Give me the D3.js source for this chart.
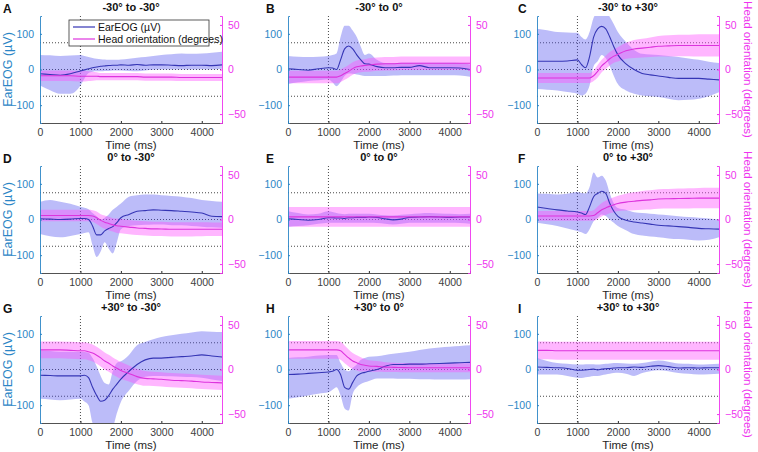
<!DOCTYPE html>
<html><head><meta charset="utf-8">
<script src="https://cdn.jsdelivr.net/npm/d3@7"></script>
<style>body{margin:0;background:#fff}svg{display:block;font-family:"Liberation Sans",Arial,sans-serif}</style>
</head><body><svg id="c" width="758" height="452"></svg>
<script>
// time grid (ms)
const times = [0,250,500,750,1000,1100,1200,1300,1400,1500,1600,1700,1800,1900,2000,2200,2400,2600,2800,3000,3250,3500,3750,4000,4250,4500];
const xTicks = [0,1000,2000,3000,4000];
const yLeftTicks = [-100,0,100];
const yRightTicks = [-50,0,50];
const letters = ["A","B","C","D","E","F","G","H","I"];
const titles = ["-30° to -30°","-30° to 0°","-30° to +30°","0° to -30°","0° to 0°","0° to +30°","+30° to -30°","+30° to 0°","+30° to +30°"];

// EarEOG mean / upper / lower (µV)
const eogMean = [
 [-12,-14,-16,-12,-4,-1,2,5,7,9,10,11,12,12,13,12,14,12,13,13,12,11,12,12,11,13],
 [2,0,-2,2,5,4,0,27,58,66,58,41,27,16,15,8,5,5,6,6,11,5,5,5,4,0],
 [23,23,23,24,27,14,5,36,91,114,121,114,91,64,41,16,0,-11,-15,-18,-22,-25,-25,-25,-27,-29],
 [2,1,0,1,3,3,0,-18,-43,-43,-32,-25,-20,-9,5,14,23,25,27,26,25,23,21,18,9,8],
 [2,0,-2,0,5,5,4,4,3,5,5,6,6,6,7,6,2,-1,1,6,7,8,7,6,7,7],
 [35,31,27,24,21,18,14,36,64,73,79,73,45,23,9,-2,-7,-10,-13,-16,-18,-20,-22,-25,-26,-27],
 [-16,-17,-18,-18,-18,-16,-23,-50,-73,-89,-86,-73,-55,-41,-27,-5,14,27,32,32,34,36,38,41,38,35],
 [-14,-13,-11,-9,-7,-5,0,-14,-50,-55,-36,-18,-11,-8,-5,0,9,14,14,15,15,16,17,18,19,20],
 [7,6,5,3,-2,-2,-1,0,1,-1,1,2,3,4,5,5,7,6,9,11,8,4,5,4,5,5]
];
const eogHi = [
 [41,40,38,39,41,38,35,32,30,29,28,27,27,27,28,30,33,35,38,41,43,45,44,45,47,50],
 [38,36,35,36,38,41,45,91,123,123,109,91,64,41,45,27,18,18,19,19,19,19,19,19,18,14],
 [114,110,105,104,103,91,84,105,145,160,165,165,147,127,105,77,55,44,42,41,38,35,31,27,22,18],
 [50,55,50,44,36,33,29,18,9,0,5,14,27,36,45,64,68,70,70,68,66,64,60,55,52,50],
 [23,18,14,16,23,21,18,16,15,16,16,16,16,16,16,14,12,11,13,15,17,18,17,16,15,16],
 [73,72,70,72,77,74,73,91,132,118,123,109,73,45,32,27,20,18,16,14,12,9,7,5,3,0],
 [53,52,50,50,50,49,47,32,9,-18,-38,-42,-5,18,23,41,68,77,85,91,96,100,104,107,106,105],
 [32,34,36,39,41,41,41,18,0,-5,5,14,27,32,36,37,41,44,47,50,55,59,62,64,66,68],
 [32,24,18,16,14,14,15,15,15,14,15,16,17,18,18,17,16,18,22,25,22,17,16,14,15,16]
];
const eogLo = [
 [-45,-58,-68,-68,-45,-25,-10,-6,-5,-5,-4,-4,-3,-3,-3,-4,-5,-3,-1,0,0,0,0,1,0,2],
 [-41,-36,-32,-30,-27,-36,-47,-35,-18,-11,-12,-14,-16,-18,-18,-18,-18,-17,-16,-16,-16,-16,-16,-16,-17,-20],
 [-55,-57,-59,-63,-68,-73,-68,-45,9,23,41,32,9,-18,-41,-59,-68,-73,-75,-77,-82,-86,-85,-82,-75,-64],
 [-41,-47,-50,-46,-41,-38,-36,-73,-105,-90,-64,-82,-95,-64,-27,-18,-16,-15,-14,-14,-16,-16,-18,-20,-22,-23],
 [-20,-18,-16,-12,-9,-9,-9,-9,-9,-9,-9,-9,-9,-9,-9,-10,-12,-14,-12,-9,-9,-9,-9,-9,-10,-12],
 [-9,-13,-18,-25,-32,-36,-41,-27,-5,5,14,10,0,-9,-18,-30,-41,-45,-48,-50,-53,-55,-57,-59,-57,-50],
 [-82,-84,-86,-84,-82,-90,-100,-150,-165,-170,-170,-165,-160,-123,-91,-59,-32,-20,-18,-18,-19,-20,-21,-23,-28,-32],
 [-82,-78,-73,-68,-64,-57,-50,-73,-109,-115,-68,-50,-41,-36,-32,-25,-25,-25,-26,-26,-27,-27,-28,-28,-28,-27],
 [-14,-14,-14,-18,-23,-24,-22,-20,-18,-18,-16,-14,-12,-10,-9,-12,-18,-10,-5,-2,-5,-10,-12,-14,-13,-12]
];
// Head orientation mean / SD (degrees)
const headMean = [
 [-7,-7,-7,-7,-7.5,-7.5,-7.5,-7.5,-7.5,-8,-8,-8,-8,-8,-8,-8,-8,-8.5,-8.5,-8.5,-8.5,-9,-9,-9,-9,-9],
 [-8.5,-8.5,-8.5,-8.5,-8.5,-8.5,-8.5,-7,-4.5,-2,1,3,4,4.5,5,6,6.5,6.5,7,7,7,7,7,7,7,7],
 [-9.5,-9.5,-9.5,-9.5,-9.5,-9.5,-9.5,-9.5,-7,-2,4,8,12,15,17,21,23,24,25,26,26.5,27,27,27,27,27],
 [4.5,4.5,4.5,4.5,4.5,4.5,4.5,4,2,-1,-3,-4.5,-6,-7,-7.5,-8.5,-9.5,-10,-10.5,-10.6,-11,-11,-11,-11,-11,-11],
 [3,3,3,3,3,3,3,3,3,3,3,3,3,3,3,3,3,3,3,3,3,3,3,3,3,3],
 [4,4,4,4,4,4,4,4,4.5,7.5,11,13,15,16.5,18,19.5,20.5,21.5,22,23,23.3,23.5,23.7,24,24,24],
 [22,22,22,21.5,21,21,20,18.5,16,13,9.5,7,4,1.5,-1,-4.5,-8,-10,-10.5,-11,-12,-12.5,-13,-14,-14.5,-15],
 [22,22,22,22,22,22,22,21,17,13,9.5,7.5,5.7,4.8,4,3.5,2.7,2.4,2.2,2,2,2,2,2,2,2],
 [21.5,21.5,21,21,21,21,21,21,21,21,21,21,21,21,21,21,21,21,21,21,21,21,21,21,21,21]
];
const headSd = [
 [6,6,6,6,6,6,5.5,5,4.5,4,4,4,4,4,4,4,4,4,4,4,4,4,4,4,4,4],
 [7,7,7,7,7,7,7,7,7,7,7,7,7,7,7.5,7.5,7.5,7.5,7.5,7.5,7.5,7.5,7.5,7.5,7.5,7.5],
 [5.5,5.5,5.5,5.5,5.5,5.5,5.5,5.5,6,7,7,7.5,7.5,7.5,8,9,10,10.5,11,11.5,12,12,12,12.5,12.5,12.5],
 [6.5,6.5,6.5,6.5,6.5,6.5,6.5,6.5,7,7,7.5,7.5,7.5,8,8,8,8,8,8,8,8,8,8,7.8,7.6,7.5],
 [11,11,11,11,11,11,11,11,11,11,11,11,11,11,11,11,11,11,11,11,11,11,11,11,11,11],
 [5.5,5.5,5.5,5.5,5.5,5.5,5.5,5.5,6,7,7.5,8,8,8.5,8.5,9.5,10,10.5,10.8,11,11,11.2,11.3,11.4,11.5,11.5],
 [9.5,9.5,9.5,9.5,9.5,9.5,9.5,9.5,9.5,9.5,9.5,9.5,9.5,9.5,9.5,9,8.5,8.3,8,8,8,8,8,8,8,8],
 [10,10,10,10,10,10,10,10,10,9.5,9,8.5,8,7,6.5,6,5.5,5.3,5.2,5.2,5.1,5,5,5,5,5],
 [10,10,10,10,10,10,10,10,10,10,10,10,10,10,10,10,10,10,10,10,10,10,10,10,10,10]
];
const legendLabels = ["EarEOG (µV)","Head orientation (degrees)"];

const cBlue = "#2b86c6", cMag = "#ee33ee", cEog = "#3535b5", cHead = "#dd33dd";
const svg = d3.select("#c");
const colX = [40,288,537], rowY = [16,166,316], W = 182, H = 107;
const letterX = [3,266,518];

const x = d3.scaleLinear().domain([0,4500]).range([0,W]);
const yL = d3.scaleLinear().domain([-150,150]).range([H,0]);
const yR = d3.scaleLinear().domain([-60,60]).range([H,0]);

for (let p=0;p<9;p++){
  const col=p%3,row=Math.floor(p/3);
  const g = svg.append("g").attr("transform",`translate(${colX[col]},${rowY[row]})`);
  const cid="clip"+p;
  g.append("clipPath").attr("id",cid).append("rect").attr("width",W).attr("height",H);
  const pl = g.append("g").attr("clip-path",`url(#${cid})`);

  // guides
  const dot = {"stroke":"#333","stroke-width":0.9,"stroke-dasharray":"1,2"};
  [-30,0,30].forEach(v=>{
    const l=pl.append("line").attr("x1",0).attr("x2",W).attr("y1",yR(v)).attr("y2",yR(v));
    for(const k in dot) l.attr(k,dot[k]);
  });
  const vl=pl.append("line").attr("x1",x(1000)).attr("x2",x(1000)).attr("y1",0).attr("y2",H);
  for(const k in dot) vl.attr(k,dot[k]);

  const idx = d3.range(times.length);
  const curve = d3.curveMonotoneX;
  pl.append("path").datum(idx).attr("fill","#5050ee").attr("fill-opacity",0.38)
    .attr("d",d3.area().curve(curve).x(i=>x(times[i])).y0(i=>yL(eogLo[p][i])).y1(i=>yL(eogHi[p][i])));
  pl.append("path").datum(idx).attr("fill","#ff50ff").attr("fill-opacity",0.42)
    .attr("d",d3.area().curve(curve).x(i=>x(times[i])).y0(i=>yR(headMean[p][i]-headSd[p][i])).y1(i=>yR(headMean[p][i]+headSd[p][i])));
  pl.append("path").datum(idx).attr("fill","none").attr("stroke",cEog).attr("stroke-width",1.1)
    .attr("d",d3.line().curve(curve).x(i=>x(times[i])).y(i=>yL(eogMean[p][i])));
  pl.append("path").datum(idx).attr("fill","none").attr("stroke",cHead).attr("stroke-width",1.1)
    .attr("d",d3.line().curve(curve).x(i=>x(times[i])).y(i=>yR(headMean[p][i])));

  // axes
  const ax = g.append("g").attr("transform",`translate(0,${H})`)
    .call(d3.axisBottom(x).tickValues(xTicks).tickFormat(d3.format("d")).tickSize(-2).tickPadding(6));
  ax.select(".domain").attr("stroke","#262626").attr("stroke-width",0.8);
  ax.selectAll(".tick line").attr("stroke","#262626");
  ax.selectAll("text").attr("fill","#404040").attr("font-size",10.5);
  const al = g.append("g").call(d3.axisLeft(yL).tickValues(yLeftTicks).tickSize(-2).tickPadding(6));
  al.select(".domain").attr("stroke",cBlue).attr("stroke-width",0.9);
  al.selectAll(".tick line").attr("stroke",cBlue);
  al.selectAll("text").attr("fill",cBlue).attr("font-size",10.5);
  const ar = g.append("g").attr("transform",`translate(${W},0)`).call(d3.axisRight(yR).tickValues(yRightTicks).tickSize(-2).tickPadding(6));
  ar.select(".domain").attr("stroke",cMag).attr("stroke-width",0.9);
  ar.selectAll(".tick line").attr("stroke",cMag);
  ar.selectAll("text").attr("fill",cMag).attr("font-size",10.5);

  g.append("text").attr("x",W/2).attr("y",H+26).attr("text-anchor","middle")
    .attr("font-size",11.5).attr("fill","#262626").text("Time (ms)");
  g.append("text").attr("x",W/2).attr("y",-5).attr("text-anchor","middle")
    .attr("font-size",11).attr("font-weight","bold").attr("fill","#111").text(titles[p]);
  svg.append("text").attr("x",letterX[col]).attr("y",rowY[row]-3)
    .attr("font-size",12).attr("font-weight","bold").attr("fill","#111").text(letters[p]);

  if(col===0){
    g.append("text").attr("transform",`translate(-28,${H/2}) rotate(-90)`).attr("text-anchor","middle")
      .attr("font-size",12.5).attr("fill",cBlue).text("EarEOG (µV)");
  }
  if(col===2){
    g.append("text").attr("transform",`translate(${W+25},${H/2}) rotate(90)`).attr("text-anchor","middle")
      .attr("font-size",11.5).attr("fill",cMag).text("Head orientation (degrees)");
  }
  if(p===0){
    const lg=g.append("g").attr("transform","translate(29,4)");
    lg.append("rect").attr("width",140).attr("height",26).attr("fill","#fff").attr("stroke","#333").attr("stroke-width",0.8);
    [cEog,cHead].forEach((c,i)=>{
      lg.append("line").attr("x1",4).attr("x2",26).attr("y1",7+i*12).attr("y2",7+i*12).attr("stroke",c).attr("stroke-width",1.2);
      lg.append("text").attr("x",29).attr("y",11+i*12).attr("font-size",10.5).attr("fill","#111").text(legendLabels[i]);
    });
  }
}
</script></body></html>
